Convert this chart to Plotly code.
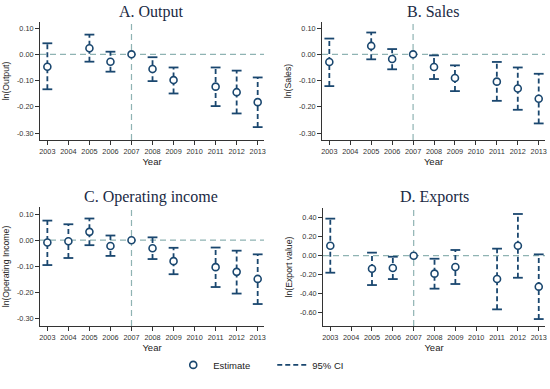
import plotly.graph_objects as go

# ---------------- data ----------------
years_abd = [2003, 2005, 2006, 2007, 2008, 2009, 2011, 2012, 2013]
years_c = [2003, 2004, 2005, 2006, 2007, 2008, 2009, 2011, 2012, 2013]

output_est = [-0.047, 0.023, -0.028, 0.0, -0.056, -0.098, -0.123, -0.144, -0.182]
output_lo = [-0.133, -0.028, -0.066, 0.0, -0.102, -0.149, -0.197, -0.225, -0.277]
output_hi = [0.042, 0.075, 0.010, 0.0, -0.011, -0.050, -0.050, -0.062, -0.088]

sales_est = [-0.029, 0.032, -0.018, 0.0, -0.048, -0.090, -0.104, -0.130, -0.169]
sales_lo = [-0.121, -0.019, -0.057, 0.0, -0.094, -0.140, -0.177, -0.211, -0.263]
sales_hi = [0.060, 0.083, 0.020, 0.0, -0.004, -0.042, -0.029, -0.050, -0.074]

opinc_est = [-0.009, -0.004, 0.032, -0.022, 0.0, -0.031, -0.080, -0.103, -0.121, -0.148]
opinc_lo = [-0.095, -0.068, -0.019, -0.060, 0.0, -0.072, -0.130, -0.179, -0.204, -0.244]
opinc_hi = [0.075, 0.061, 0.083, 0.018, 0.0, 0.011, -0.029, -0.028, -0.040, -0.054]

export_est = [0.105, -0.137, -0.130, 0.0, -0.189, -0.119, -0.246, 0.105, -0.326]
export_lo = [-0.179, -0.309, -0.246, 0.0, -0.347, -0.298, -0.565, -0.232, -0.667]
export_hi = [0.390, 0.032, -0.011, 0.0, -0.032, 0.060, 0.074, 0.439, 0.014]

year_ticks = list(range(2003, 2014))
small_tickvals = [0.10, 0.00, -0.10, -0.20, -0.30]
small_ticktext = ["0.10", "0.00", "-0.10", "-0.20", "-0.30"]
export_tickvals = [0.40, 0.20, 0.00, -0.20, -0.40, -0.60]
export_ticktext = ["0.40", "0.20", "0.00", "-0.20", "-0.40", "-0.60"]

titles = ["A. Output", "B. Sales", "C. Operating income", "D. Exports"]
ylabels = ["ln(Output)", "ln(Sales)", "ln(Operating Income)", "ln(Export value)"]

# ---------------- styling ----------------
NAVY = "#1a476f"
REF = "#8fb3b3"
W, H = 550, 389

def px_x(a, b):
    return [a / W, b / W]

def px_y(top, bottom):
    return [(H - bottom) / H, (H - top) / H]

panels = [
    dict(years=years_abd, est=output_est, lo=output_lo, hi=output_hi,
         xdom=px_x(40, 264), ydom=px_y(22, 140), yr=[-0.326, 0.123],
         tv=small_tickvals, tt=small_ticktext, tx=151, ty=12),
    dict(years=years_abd, est=sales_est, lo=sales_lo, hi=sales_hi,
         xdom=px_x(322, 545), ydom=px_y(22, 140), yr=[-0.326, 0.123],
         tv=small_tickvals, tt=small_ticktext, tx=433, ty=12),
    dict(years=years_c, est=opinc_est, lo=opinc_lo, hi=opinc_hi,
         xdom=px_x(40, 264), ydom=px_y(207, 326), yr=[-0.328, 0.127],
         tv=small_tickvals, tt=small_ticktext, tx=151, ty=197),
    dict(years=years_abd, est=export_est, lo=export_lo, hi=export_hi,
         xdom=px_x(323, 545), ydom=px_y(208, 326), yr=[-0.74, 0.502],
         tv=export_tickvals, tt=export_ticktext, tx=434, ty=197),
]

fig = go.Figure()
layout = dict(
    width=W, height=H, margin=dict(l=0, r=0, t=0, b=0, autoexpand=False),
    paper_bgcolor="white", plot_bgcolor="white",
    font=dict(family="Liberation Sans, Arial, sans-serif", color="#222", size=9),
    showlegend=True,
    legend=dict(orientation="h", x=0.495, xanchor="center", y=0.062, yanchor="middle",
                font=dict(size=9.5, color="#222"), itemwidth=30, tracegroupgap=0,
                entrywidth=54, bgcolor="rgba(0,0,0,0)"),
)
shapes = []
annotations = []

for i, p in enumerate(panels):
    n = "" if i == 0 else str(i + 1)
    xa, ya = "x" + n, "y" + n
    # CI dashed segments
    seg_x, seg_y = [], []
    cap_x, cap_y = [], []
    for yv, lo, hi in zip(p["years"], p["lo"], p["hi"]):
        if lo == hi:
            continue
        seg_x += [yv, yv, None]
        seg_y += [lo, hi, None]
        cap_x += [yv, yv]
        cap_y += [lo, hi]
    fig.add_trace(go.Scatter(
        x=seg_x, y=seg_y, mode="lines", xaxis=xa, yaxis=ya,
        line=dict(color=NAVY, width=1.8, dash="5px,3px"),
        name="95% CI", legendgroup="ci", showlegend=False, hoverinfo="skip"))
    fig.add_trace(go.Scatter(
        x=cap_x, y=cap_y, mode="markers", xaxis=xa, yaxis=ya,
        marker=dict(symbol="line-ew", size=7, line=dict(color=NAVY, width=1.8)),
        showlegend=False, hoverinfo="skip"))
    fig.add_trace(go.Scatter(
        x=p["years"], y=p["est"], mode="markers", xaxis=xa, yaxis=ya,
        marker=dict(symbol="circle", size=7, color="white",
                    line=dict(color=NAVY, width=1.6)),
        name="Estimate", legendgroup="est", showlegend=(i == 0)))

    common_x = dict(domain=p["xdom"], anchor=ya, range=[2002.65, 2013.3],
                    tickvals=year_ticks, ticktext=[str(t) for t in year_ticks],
                    showline=True, linecolor="#333", linewidth=1,
                    ticks="outside", ticklen=4, tickcolor="#333", automargin=False,
                    tickfont=dict(size=7.3, color="#333"), showgrid=False, zeroline=False,
                    title=dict(text="Year", font=dict(size=9.5, color="#222"), standoff=0))
    common_y = dict(domain=p["ydom"], anchor=xa, range=p["yr"],
                    tickvals=p["tv"], ticktext=p["tt"],
                    showline=True, linecolor="#333", linewidth=1,
                    ticks="outside", ticklen=4, tickcolor="#333", automargin=False,
                    tickfont=dict(size=7.3, color="#333"), showgrid=False, zeroline=False,
                    title=dict(text=ylabels[i], font=dict(size=8.7, color="#222"), standoff=5))
    layout["xaxis" + n] = common_x
    layout["yaxis" + n] = common_y

    shapes.append(dict(type="line", xref=xa, yref=ya + " domain",
                       x0=2007, x1=2007, y0=0, y1=1,
                       line=dict(color=REF, width=1.2, dash="6px,4px"), layer="below"))
    shapes.append(dict(type="line", xref=xa + " domain", yref=ya,
                       x0=0, x1=1, y0=0, y1=0,
                       line=dict(color=REF, width=1.2, dash="6px,4px"), layer="below"))
    annotations.append(dict(text=titles[i], xref="paper", yref="paper",
                            x=p["tx"] / W, y=(H - p["ty"]) / H, xanchor="center", yanchor="middle",
                            showarrow=False,
                            font=dict(family="Liberation Serif, Times New Roman, serif",
                                      size=16, color="#1a2a44")))

# legend-only CI entry
fig.add_trace(go.Scatter(x=[None], y=[None], mode="lines", name="95% CI",
                         line=dict(color=NAVY, width=1.8, dash="5px,3px"),
                         legendgroup="ci", showlegend=True))

layout["shapes"] = shapes
layout["annotations"] = annotations
fig.update_layout(**layout)
fig.write_html("out.html", config={"displayModeBar": False},
               post_script="document.body.style.margin='0';document.body.style.padding='0';")
